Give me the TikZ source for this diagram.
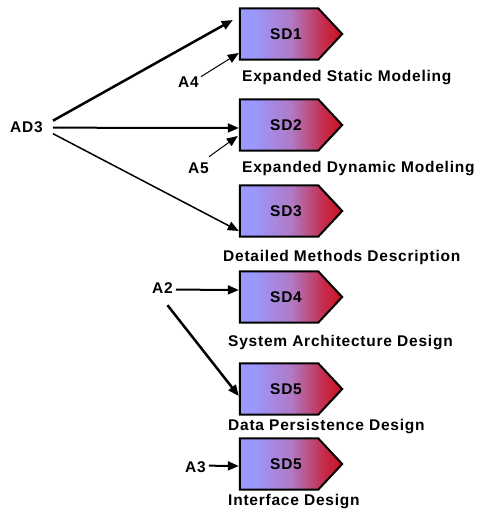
\documentclass[tikz,border=0pt]{standalone}
\usepackage{fontspec}
\setmainfont{Liberation Sans}[LetterSpace=5]
\usetikzlibrary{arrows.meta}
\definecolor{sdblue}{RGB}{153,153,255}
\definecolor{sdmid}{RGB}{176,122,196}
\definecolor{sdred}{RGB}{204,17,34}
\pgfdeclarehorizontalshading{sdshade}{100bp}{color(0bp)=(sdblue); color(25bp)=(sdblue); color(31bp)=(sdblue); color(50bp)=(sdmid); color(66bp)=(sdred!75!sdmid); color(75bp)=(sdred); color(100bp)=(sdred)}
\pgfdeclarelayer{background}
\pgfsetlayers{background,main}
\begin{document}
\begin{tikzpicture}[x=1pt,y=-1pt,
  lab/.style={font=\bfseries\fontsize{15.5}{18}\selectfont, inner sep=0pt, anchor=base west},
  sdbox/.style={minimum width=92pt, minimum height=51pt, inner sep=0pt,
    font=\bfseries\fontsize{15.5}{18}\selectfont},
  sdfill/.style={draw=black, line width=2pt, shading=sdshade, line join=miter},
  arr/.style={-{Triangle[length=11pt,width=9pt]}, black}]
\useasboundingbox (0,0) rectangle (481,510);

\node[sdbox] (sd1) at (286,34) {SD1};
\node[sdbox] (sd2) at (286,125) {SD2};
\node[sdbox] (sd3) at (286,211) {SD3};
\node[sdbox] (sd4) at (286,297) {SD4};
\node[sdbox] (sd5) at (286,389) {SD5};
\node[sdbox] (sd6) at (286,464) {SD5};

\begin{pgfonlayer}{background}
\foreach \n in {sd1,sd2,sd3,sd4,sd5,sd6}{
  \path[sdfill] (\n.north west) -- ([xshift=-14pt]\n.north east) -- ([xshift=10pt]\n.east)
    -- ([xshift=-14pt]\n.south east) -- (\n.south west) -- cycle;
}
\end{pgfonlayer}

\node[lab] (l1) at (242,82) {Expanded Static Modeling};
\node[lab] (l2) at (242,173) {Expanded Dynamic Modeling};
\node[lab] (l3) at (223,261) {Detailed Methods Description};
\node[lab] (l4) at (228,346) {System Architecture Design};
\node[lab] (l5) at (228,430) {Data Persistence Design};
\node[lab] (l6) at (228,505) {Interface Design};

\node[lab] (ad3) at (10,133) {AD3};
\node[lab] (a4) at (178,88) {A4};
\node[lab] (a5) at (188,174) {A5};
\node[lab] (a2) at (152,293) {A2};
\node[lab] (a3) at (185,472) {A3};

\draw[arr, line width=2.5pt] ([shift={(10,-7)}]ad3.east) -- ([shift={(-7,-14)}]sd1.west);
\draw[arr, line width=2pt] ([shift={(10,0)}]ad3.east) -- ([shift={(-1,3)}]sd2.west);
\draw[arr, line width=1.5pt] ([shift={(10,6)}]ad3.east) -- ([shift={(-1,20)}]sd3.west);
\draw[arr, line width=1pt] ([shift={(2,-6)}]a4.east) -- ([shift={(-1,19)}]sd1.west);
\draw[arr, line width=1pt] ([shift={(0,-12)}]a5.east) -- ([shift={(-2,11)}]sd2.west);
\draw[arr, line width=2pt] ([shift={(3,2)}]a2.east) -- ([shift={(-1,-7)}]sd4.west);
\draw[arr, line width=2.5pt] ([shift={(5,12)}]a2.south) -- ([shift={(-1,7)}]sd5.west);
\draw[arr, line width=2pt] ([shift={(3,-1)}]a3.east) -- ([shift={(-1,2)}]sd6.west);
\end{tikzpicture}
\end{document}
